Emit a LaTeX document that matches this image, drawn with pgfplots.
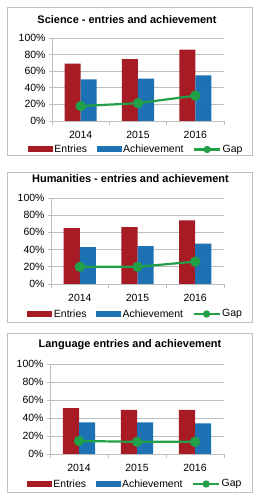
\documentclass[border=0pt]{standalone}
\usepackage{fontspec}
\setmainfont{Liberation Sans}
\usepackage{pgfplots}
\pgfplotsset{compat=1.18}
\definecolor{entr}{RGB}{166,27,36}
\definecolor{ach}{RGB}{28,114,178}
\definecolor{gapc}{RGB}{34,160,72}
\definecolor{gridc}{RGB}{190,190,190}
\definecolor{framec}{RGB}{192,192,192}
\newcommand{\tfont}{\fontsize{10.5}{12}\selectfont}
\pgfplotsset{
  barleg/.style={legend image code/.code={\fill[##1] (0bp,-3bp) rectangle (25bp,3bp);}},
  lineleg/.style={legend image code/.code={\draw[mark repeat=2,mark phase=2,mark size=2.5bp,##1] plot coordinates {(0bp,0bp) (13bp,0bp) (26bp,0bp)};}},
  panel/.style={
    scale only axis, anchor=south west,
    xmin=-0.5, xmax=2.5, ymin=0, ymax=100,
    axis x line*=bottom, axis y line*=left,
    axis line style={gridc, line width=0.8bp},
    xtick={0,1,2}, xticklabels={2014,2015,2016},
    minor xtick={-0.5,0.5,1.5,2.5},
    ytick={0,20,...,100}, yticklabels={0\%,20\%,40\%,60\%,80\%,100\%},
    ymajorgrids, grid style={gridc, line width=0.8bp},
    tick align=outside,
    major tick length=3bp, minor tick length=4bp,
    major x tick style={draw=none},
    tick style={gridc, line width=0.8bp},
    minor tick style={gridc, line width=0.8bp},
    ticklabel style={font=\tfont, black},
    xticklabel style={yshift=-4bp},
    /pgf/number format/assume math mode=true,
    legend columns=3,
    legend style={draw=none, fill=none, font=\tfont, at={(0.5,0)}, anchor=center, xshift=-2bp,
      /tikz/every even column/.append style={column sep=8bp},
      nodes={inner sep=1.5bp}},
    legend cell align=left,
  },
  ent/.style={ybar, bar width=0.28, bar shift=-0.14, fill=entr, draw=none, barleg},
  achs/.style={ybar, bar width=0.28, bar shift=0.14, fill=ach, draw=none, barleg},
  gaps/.style={color=gapc, line width=2.2bp, mark=*, mark size=4bp, mark options={fill=gapc, draw=gapc}, lineleg},
}
\begin{document}
\begin{tikzpicture}
\useasboundingbox[fill=white] (0,0) rectangle (260bp,500bp);
% frames
\draw[framec, line width=0.8bp] (7bp,345bp) rectangle (252bp,493bp);
\draw[framec, line width=0.8bp] (7bp,178bp) rectangle (252bp,328bp);
\draw[framec, line width=0.8bp] (7bp,8bp) rectangle (252bp,167bp);
% titles
\node[font=\fontsize{11}{13}\selectfont\bfseries] at (127bp,480bp) {Science - entries and achievement};
\node[font=\fontsize{11}{13}\selectfont\bfseries] at (130.5bp,321.7bp) {Humanities - entries and achievement};
\node[font=\fontsize{11}{13}\selectfont\bfseries] at (130bp,155bp) {Language entries and achievement};

\begin{axis}[panel, at={(52bp,379bp)}, width=172bp, height=83bp, legend style={yshift=-28.5bp}]
\addplot[ent] coordinates {(0,69) (1,74.5) (2,86)};
\addlegendentry{Entries}
\addplot[achs] coordinates {(0,50) (1,51) (2,55)};
\addlegendentry{Achievement}
\addplot[gaps] coordinates {(0,18) (1,21.5) (2,30.5)};
\addlegendentry{Gap}
\end{axis}

\begin{axis}[panel, at={(51bp,216bp)}, width=173bp, height=86bp, legend style={yshift=-30bp}]
\addplot[ent] coordinates {(0,65) (1,66) (2,74)};
\addlegendentry{Entries}
\addplot[achs] coordinates {(0,43) (1,44) (2,47)};
\addlegendentry{Achievement}
\addplot[gaps] coordinates {(0,20) (1,20) (2,26)};
\addlegendentry{Gap}
\end{axis}

\begin{axis}[panel, at={(50bp,46bp)}, width=174bp, height=90bp, legend style={yshift=-30bp}]
\addplot[ent] coordinates {(0,51) (1,49) (2,49)};
\addlegendentry{Entries}
\addplot[achs] coordinates {(0,35) (1,35) (2,34)};
\addlegendentry{Achievement}
\addplot[gaps] coordinates {(0,14.5) (1,13.5) (2,13.5)};
\addlegendentry{Gap}
\end{axis}
\end{tikzpicture}
\end{document}
